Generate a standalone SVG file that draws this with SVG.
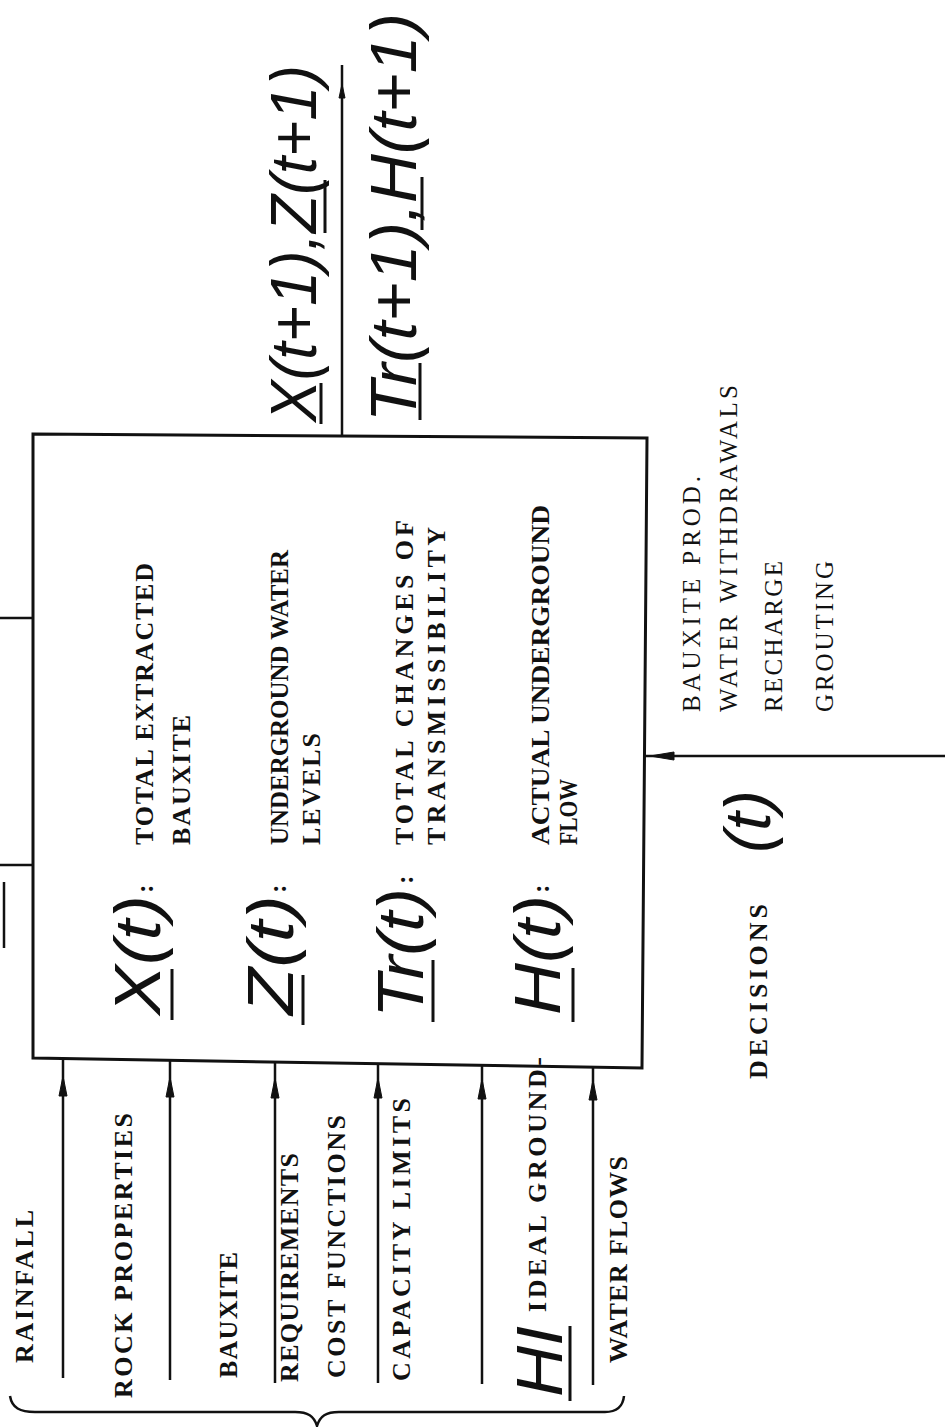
<svg xmlns="http://www.w3.org/2000/svg" width="945" height="1427" viewBox="0 0 945 1427">
<style>
.t{font-family:"Liberation Serif",serif;font-weight:bold;font-size:26px;fill:#111}
.tw{font-family:"Liberation Serif",serif;font-size:25px;fill:#111}
.h{font-family:"Liberation Sans",sans-serif;font-style:italic;font-size:64px;fill:#111}
.ln{stroke:#111;stroke-width:2.5;fill:none}
.ul{stroke:#111;stroke-width:3;fill:none}
.ah{fill:#111;stroke:#111;stroke-width:1}
</style>
<rect width="945" height="1427" fill="#fff"/>

<g id="connectors">
  <line class="ln" x1="0" y1="618" x2="33" y2="618"/>
  <line class="ln" x1="0" y1="865" x2="33" y2="865"/>
  <line class="ln" x1="4" y1="882" x2="4" y2="948"/>
  <line class="ln" x1="342" y1="436" x2="342" y2="65"/>
  <polygon class="ah" points="342,84 339,98 345,98"/>
  <line class="ln" x1="945" y1="756" x2="645" y2="756"/>
  <polygon class="ah" points="650,756 674,752 674,760"/>
  <line class="ln" x1="63" y1="1378" x2="63" y2="1058"/>
  <polygon class="ah" points="63,1076 59,1096 67,1096"/>
  <line class="ln" x1="170" y1="1380" x2="170" y2="1060"/>
  <polygon class="ah" points="170,1077 166,1097 174,1097"/>
  <line class="ln" x1="275" y1="1383" x2="275" y2="1062"/>
  <polygon class="ah" points="275,1078 271,1098 279,1098"/>
  <line class="ln" x1="378" y1="1383" x2="378" y2="1063"/>
  <polygon class="ah" points="378,1078 374,1098 382,1098"/>
  <line class="ln" x1="482" y1="1384" x2="482" y2="1065"/>
  <polygon class="ah" points="482,1079 478,1099 486,1099"/>
  <line class="ln" x1="593" y1="1385" x2="593" y2="1067"/>
  <polygon class="ah" points="593,1080 589,1100 597,1100"/>
  <path class="ln" d="M10,1396 C12,1408 20,1412 35,1412 L295,1412 C308,1412 314,1416 317,1426 C320,1416 326,1412 339,1412 L605,1412 C618,1412 623,1406 624,1396"/>
</g>

<g id="system-box">
  <polygon points="33,434 647,438 642,1068 33,1058" fill="none" stroke="#111" stroke-width="3"/>
  <text class="h" transform="translate(160,1015) rotate(-90)" textLength="120" lengthAdjust="spacingAndGlyphs">X(t)</text>
  <text class="t" transform="translate(153,893) rotate(-90)">:</text>
  <line class="ul" x1="172" y1="1020" x2="172" y2="969"/>
  <text class="t" transform="translate(153,845) rotate(-90)" textLength="282" lengthAdjust="spacing">TOTAL EXTRACTED</text>
  <text class="t" transform="translate(190,845) rotate(-90)" textLength="130" lengthAdjust="spacing">BAUXITE</text>

  <text class="h" transform="translate(293,1015) rotate(-90)" textLength="120" lengthAdjust="spacingAndGlyphs">Z(t)</text>
  <text class="t" transform="translate(286,893) rotate(-90)">:</text>
  <line class="ul" x1="303" y1="1025" x2="303" y2="975"/>
  <text class="t" transform="translate(288,845) rotate(-90)" textLength="295" lengthAdjust="spacingAndGlyphs">UNDERGROUND WATER</text>
  <text class="t" transform="translate(320,845) rotate(-90)" textLength="112" lengthAdjust="spacing">LEVELS</text>

  <text class="h" transform="translate(423,1018) rotate(-90)" textLength="130" lengthAdjust="spacingAndGlyphs">Tr(t)</text>
  <text class="t" transform="translate(413,884) rotate(-90)">:</text>
  <line class="ul" x1="433" y1="1022" x2="433" y2="960"/>
  <text class="t" transform="translate(413,845) rotate(-90)" textLength="325" lengthAdjust="spacing">TOTAL CHANGES OF</text>
  <text class="t" transform="translate(445,845) rotate(-90)" textLength="318" lengthAdjust="spacing">TRANSMISSIBILITY</text>

  <text class="h" transform="translate(560,1015) rotate(-90)" textLength="120" lengthAdjust="spacingAndGlyphs">H(t)</text>
  <text class="t" transform="translate(549,893) rotate(-90)">:</text>
  <line class="ul" x1="573" y1="1022" x2="573" y2="968"/>
  <text class="t" transform="translate(549,845) rotate(-90)" textLength="340" lengthAdjust="spacingAndGlyphs">ACTUAL UNDERGROUND</text>
  <text class="t" transform="translate(577,845) rotate(-90)" textLength="66" lengthAdjust="spacingAndGlyphs">FLOW</text>
</g>

<g id="outputs">
  <text class="h" transform="translate(316,422) rotate(-90)" textLength="357" lengthAdjust="spacingAndGlyphs">X(t+1),Z(t+1)</text>
  <line class="ul" x1="321" y1="424" x2="321" y2="383"/>
  <line class="ul" x1="325" y1="233" x2="325" y2="180"/>
  <text class="h" transform="translate(416,422) rotate(-90)" textLength="409" lengthAdjust="spacingAndGlyphs">Tr(t+1),H(t+1)</text>
  <line class="ul" x1="420" y1="420" x2="420" y2="363"/>
  <line class="ul" x1="422" y1="230" x2="422" y2="177"/>
</g>

<g id="decisions">
  <text class="tw" transform="translate(700,712) rotate(-90)" textLength="236" lengthAdjust="spacing">BAUXITE PROD.</text>
  <text class="tw" transform="translate(737,712) rotate(-90)" textLength="327" lengthAdjust="spacing">WATER WITHDRAWALS</text>
  <text class="tw" transform="translate(782,712) rotate(-90)" textLength="151" lengthAdjust="spacing">RECHARGE</text>
  <text class="tw" transform="translate(833,712) rotate(-90)" textLength="151" lengthAdjust="spacing">GROUTING</text>
  <text class="t" transform="translate(767,1079) rotate(-90)" textLength="175" lengthAdjust="spacing">DECISIONS</text>
  <text class="h" transform="translate(770,853) rotate(-90)" textLength="63" lengthAdjust="spacingAndGlyphs">(t)</text>
</g>

<g id="inputs">
  <text class="t" transform="translate(33,1363) rotate(-90)" textLength="153" lengthAdjust="spacing">RAINFALL</text>
  <text class="t" transform="translate(132,1398) rotate(-90)" textLength="285" lengthAdjust="spacing">ROCK PROPERTIES</text>
  <text class="t" transform="translate(237,1378) rotate(-90)" textLength="126" lengthAdjust="spacing">BAUXITE</text>
  <text class="t" transform="translate(298,1382) rotate(-90)" textLength="229" lengthAdjust="spacing">REQUIREMENTS</text>
  <text class="t" transform="translate(345,1378) rotate(-90)" textLength="263" lengthAdjust="spacing">COST FUNCTIONS</text>
  <text class="t" transform="translate(410,1381) rotate(-90)" textLength="283" lengthAdjust="spacing">CAPACITY LIMITS</text>
  <text class="h" transform="translate(562,1397) rotate(-90)" textLength="71" lengthAdjust="spacingAndGlyphs">HI</text>
  <line class="ul" x1="570" y1="1401" x2="570" y2="1326"/>
  <text class="t" transform="translate(546,1312) rotate(-90)" textLength="255" lengthAdjust="spacing">IDEAL GROUND-</text>
  <text class="t" transform="translate(627,1363) rotate(-90)" textLength="207" lengthAdjust="spacing">WATER FLOWS</text>
</g>
</svg>
